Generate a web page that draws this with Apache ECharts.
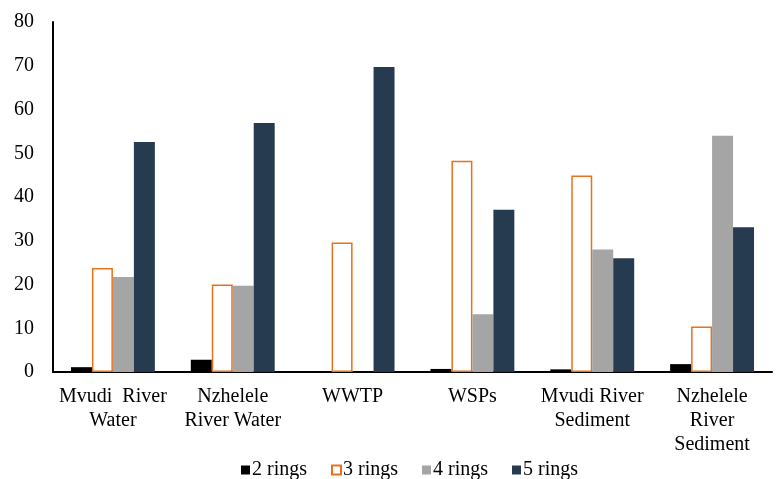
<!DOCTYPE html>
<html>
<head>
<meta charset="utf-8">
<script src="https://cdn.jsdelivr.net/npm/echarts@6/dist/echarts.min.js"></script>
<style>
  html, body { margin: 0; padding: 0; background: #fff; }
  #chart { width: 779px; height: 479px; }
</style>
</head>
<body>
<div id="chart"></div>
<script>
// Sites sampled
const categories = [
  'Mvudi  River\nWater',
  'Nzhelele\nRiver Water',
  'WWTP',
  'WSPs',
  'Mvudi River\nSediment',
  'Nzhelele\nRiver\nSediment'
];

// Percentage contribution by ring number
const rings2 = [1.1, 2.8, 0.2, 0.7, 0.6, 1.8];
const rings3 = [23.8, 20.0, 29.6, 48.3, 44.9, 10.4];
const rings4 = [21.7, 19.7, 0, 13.2, 28.0, 54.0];
const rings5 = [52.6, 56.9, 69.7, 37.1, 26.0, 33.1];

// Y axis ticks
const yMin = 0, yMax = 80, yStep = 10;

const FONT = '"Liberation Serif", "Times New Roman", serif';

const chart = echarts.init(document.getElementById('chart'), null, { renderer: 'canvas' });

const barBase = { type: 'bar', barGap: '0%', barCategoryGap: '30%' };

chart.setOption({
  animation: false,
  textStyle: { fontFamily: FONT },
  grid: { left: 53, right: 7, top: 22, bottom: 107, containLabel: false },
  legend: {
    top: 455,
    left: 236,
    icon: 'rect',
    itemWidth: 9,
    itemHeight: 9,
    itemGap: 24,
    textStyle: { fontFamily: FONT, fontSize: 20, color: '#000', padding: [0, 0, 0, -3] },
    data: ['2 rings', '3 rings', '4 rings', '5 rings']
  },
  xAxis: {
    type: 'category',
    data: categories,
    axisLine: { lineStyle: { color: '#000', width: 2 } },
    axisTick: { show: false },
    axisLabel: {
      fontFamily: FONT, fontSize: 20, color: '#000', lineHeight: 24,
      margin: 13, interval: 0
    },
    splitLine: { show: false }
  },
  yAxis: {
    type: 'value',
    min: yMin, max: yMax, interval: yStep,
    axisLine: { show: true, lineStyle: { color: '#000', width: 2 } },
    axisTick: { show: false },
    axisLabel: { fontFamily: FONT, fontSize: 20, color: '#000', margin: 19 },
    splitLine: { show: false }
  },
  series: [
    Object.assign({}, barBase, {
      name: '2 rings', data: rings2,
      itemStyle: { color: '#000000' }
    }),
    Object.assign({}, barBase, {
      name: '3 rings', data: rings3,
      itemStyle: { color: '#ffffff', borderColor: '#E8721C', borderWidth: 1.5 }
    }),
    Object.assign({}, barBase, {
      name: '4 rings', data: rings4,
      itemStyle: { color: '#A5A5A5' }
    }),
    Object.assign({}, barBase, {
      name: '5 rings', data: rings5,
      itemStyle: { color: '#273B50' }
    })
  ]
});
</script>
</body>
</html>
